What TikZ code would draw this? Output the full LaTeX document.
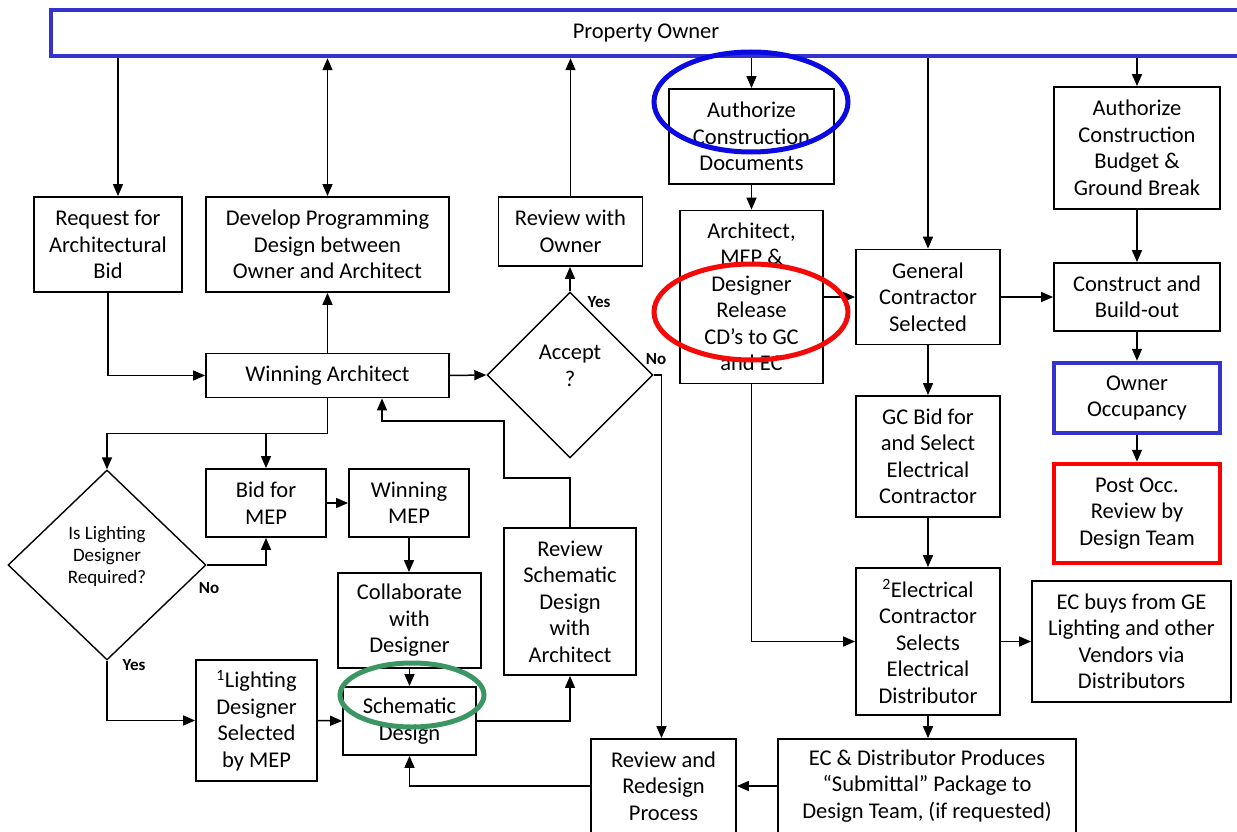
\documentclass[tikz,border=0pt]{standalone}
\usepackage{fontspec}
\setmainfont{Carlito}
\usetikzlibrary{arrows.meta,shapes.geometric,calc}
\definecolor{pblue}{RGB}{52,52,204}
\definecolor{eblue}{RGB}{10,10,225}
\definecolor{ered}{RGB}{245,10,10}
\definecolor{egreen}{RGB}{60,150,100}
\begin{document}
\begin{tikzpicture}[x=1pt,y=-1pt,
  >={Triangle[length=12pt,width=10pt]},
  box/.style={draw, line width=1.8pt, align=center, inner sep=0pt, font=\fontsize{22.5}{26.5}\selectfont},
  dia/.style={draw, diamond, line width=1.4pt, inner sep=0pt},
  dtext/.style={align=center, inner sep=0pt},
  conn/.style={line width=1.5pt},
  lbl/.style={font=\fontsize{17}{18}\selectfont\bfseries, inner sep=0pt},
  ring/.style={line width=5pt}
]
\useasboundingbox (0,0) rectangle (1237,832);
\clip (0,0) rectangle (1237,832);
\fill[white] (0,0) rectangle (1237,832);

% nodes
\node[box, draw=pblue, line width=4.5pt, minimum width=1190, minimum height=46] (po) at (646,33) {Property Owner};
\node[box, minimum width=148, minimum height=95] (req) at (108,244.5) {Request for\\Architectural\\Bid};
\node[box, minimum width=243, minimum height=95] (dev) at (327.5,244.5) {Develop Programming\\Design between\\Owner and Architect};
\node[box, minimum width=144, minimum height=69] (rwo) at (570.5,231.5) {Review with\\Owner};
\node[box, minimum width=165, minimum height=95] (acd) at (751.5,136.5) {Authorize\\Construction\\Documents};
\node[box, minimum width=143, minimum height=173] (arch) at (751.5,297) {Architect,\\MEP \&\\Designer\\Release\\CD’s to GC\\and EC};
\node[box, minimum width=144, minimum height=95] (gcs) at (928,297) {General\\Contractor\\Selected};
\node[box, minimum width=166, minimum height=122] (acb) at (1137,148) {Authorize\\Construction\\Budget \&\\Ground Break};
\node[box, minimum width=166, minimum height=68] (cab) at (1137,297) {Construct and\\Build-out};
\node[box, draw=pblue, line width=4.5pt, minimum width=166, minimum height=70] (occ) at (1137,398) {Owner\\Occupancy};
\node[box, draw=red, line width=4.5pt, minimum width=166, minimum height=99] (post) at (1137,513.5) {Post Occ.\\Review by\\Design Team};
\node[box, minimum width=144, minimum height=121] (gcb) at (928,456.5) {GC Bid for\\and Select\\Electrical\\Contractor};
\node[box, minimum width=144, minimum height=147] (ecs) at (928,641.5) {\textsuperscript{2}Electrical\\Contractor\\Selects\\Electrical\\Distributor};
\node[box, minimum width=199, minimum height=121] (ecb) at (1131.5,641.5) {EC buys from GE\\Lighting and other\\Vendors via\\Distributors};
\node[box, minimum width=298, minimum height=94] (ecd) at (927,786) {EC \& Distributor Produces\\“Submittal” Package to\\Design Team, (if requested)};
\node[box, minimum width=145, minimum height=94] (rrp) at (663.5,786) {Review and\\Redesign\\Process};
\node[box, minimum width=243, minimum height=44] (wa) at (327.5,375.5) {Winning Architect};
\node[dia, minimum width=166, minimum height=166] (acc) at (570,375) {};
\node[dtext, font=\fontsize{22.5}{26.5}\selectfont] (acct) at (570,366) {Accept\\?};
\node[dia, minimum width=198, minimum height=190] (ild) at (107,565) {};
\node[dtext, font=\fontsize{19}{22}\selectfont] (ildt) at (107,556) {Is Lighting\\Designer\\Required?};
\node[box, minimum width=120, minimum height=68] (bmep) at (266,503) {Bid for\\MEP};
\node[box, minimum width=120, minimum height=68] (wmep) at (409,503) {Winning\\MEP};
\node[box, minimum width=143, minimum height=95] (col) at (409.5,620.5) {Collaborate\\with\\Designer};
\node[box, minimum width=133, minimum height=68] (sd) at (409.5,721) {Schematic\\Design};
\node[box, minimum width=121, minimum height=121] (lds) at (256.5,720.5) {\textsuperscript{1}Lighting\\Designer\\Selected\\by MEP};
\node[box, minimum width=132, minimum height=147] (rsd) at (570,601.5) {Review\\Schematic\\Design\\with\\Architect};

% labels
\node[lbl] (yes1) at (599,302) {Yes};
\node[lbl] (no1) at (656,359) {No};
\node[lbl] (no2) at (209,588) {No};
\node[lbl] (yes2) at (134,665) {Yes};

% helper coordinates
\coordinate (j1) at ($(wa.south)+(0,35)$);
\coordinate (k1) at (504,478);
\coordinate (k2) at (382,421);

% connectors
\draw[conn,->] ([xshift=10pt]req.north |- po.south) -- ([xshift=10pt]req.north);
\draw[conn,<->] (po.south -| dev.north) -- (dev.north);
\draw[conn,->] (rwo.north) -- (po.south -| rwo.north);
\draw[conn,->] (po.south -| acd.north) -- (acd.north);
\draw[conn,->] (po.south -| gcs.north) -- (gcs.north);
\draw[conn,->] (po.south -| acb.north) -- (acb.north);
\draw[conn,->] (acd.south) -- (arch.north);
\draw[conn,->] (arch.east) -- (gcs.west);
\draw[conn,->] (gcs.east) -- (cab.west);
\draw[conn,->] (acb.south) -- (cab.north);
\draw[conn,->] (cab.south) -- (occ.north);
\draw[conn,->] (occ.south) -- (post.north);
\draw[conn,->] (gcs.south) -- (gcb.north);
\draw[conn,->] (gcb.south) -- (ecs.north);
\draw[conn,->] (arch.south) |- (ecs.west);
\draw[conn,->] (ecs.east) -- (ecb.west);
\draw[conn,->] (ecs.south) -- (ecs.south |- ecd.north);
\draw[conn,->] (ecd.west) -- (rrp.east);
\draw[conn,->] (rrp.west) -| (sd.south);
\draw[conn,->] (req.south) |- (wa.west);
\draw[conn,->] (wa.north) -- (dev.south);
\draw[conn,->] (wa.east) -- (acc.west);
\draw[conn,->] (acc.north) -- (acc.north |- rwo.south);
\draw[conn,->] (acc.east) -| ([xshift=-2pt]rrp.north);
\draw[conn] (wa.south) -- (j1);
\draw[conn,->] (j1) -| (ild.north);
\draw[conn,->] (j1) -| (bmep.north);
\draw[conn,->] (ild.east) -| (bmep.south);
\draw[conn,->] (bmep.east) -- (wmep.west);
\draw[conn,->] (wmep.south) -- (wmep.south |- col.north);
\draw[conn,->] (col.south) -- (col.south |- sd.north);
\draw[conn,->] (ild.south) |- (lds.west);
\draw[conn,->] (lds.east) -- (sd.west);
\draw[conn,->] (sd.east) -| (rsd.south);
\draw[conn,->] (rsd.north) |- (k1) |- (k2) -- (k2 |- wa.south);

% highlight rings
\draw[ring, eblue] (751,102) ellipse [x radius=97, y radius=50];
\draw[ring, ered] (751,312) ellipse [x radius=97, y radius=48];
\draw[ring, egreen] (412,695) ellipse [x radius=72, y radius=32];
\end{tikzpicture}
\end{document}
